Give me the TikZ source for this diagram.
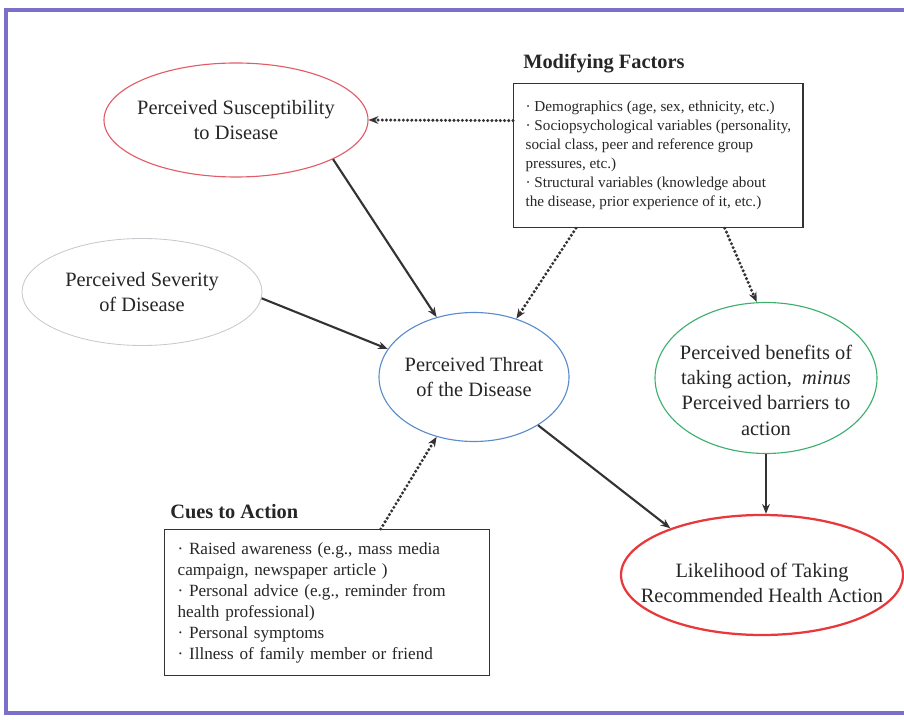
\documentclass[tikz,border=0pt]{standalone}
\usepackage{fontspec}
\setmainfont{Liberation Serif}
\usetikzlibrary{shapes.geometric,arrows.meta,positioning}

\definecolor{framecol}{RGB}{122,112,202}
\definecolor{susccol}{RGB}{226,92,104}
\definecolor{sevcol}{RGB}{200,200,206}
\definecolor{threatcol}{RGB}{90,140,205}
\definecolor{benefitcol}{RGB}{60,175,110}
\definecolor{likelycol}{RGB}{232,56,60}

\begin{document}
\begin{tikzpicture}[
	el/.style={ellipse, draw, line width=0.8pt, inner sep=0pt},
	lbl/.style={align=center, font=\fontsize{14.5}{18}\selectfont, text=black!85},
	factbox/.style={rectangle, draw=black!80, line width=0.9pt, anchor=north west, align=left, text=black!85},
	boxtitle/.style={font=\fontsize{14.5}{17}\selectfont\bfseries, inner sep=0pt, text=black!85},
	link/.style={-{Stealth[length=7pt,width=5.5pt]}, line width=1.5pt, draw=black!80},
	dotlink/.style={link, line width=2.4pt, line cap=round, dash pattern=on 0pt off 3pt}
	]
	\useasboundingbox (0,0) rectangle (22.6,17.975);
	\draw[framecol, line width=2.2pt] (22.6,17.725) -- (0.15,17.725) -- (0.15,0.15) -- (22.6,0.15);

	\node[el, draw=susccol, minimum width=6.6cm, minimum height=2.85cm,
		label={[lbl]center:{Perceived Susceptibility\\to Disease}}] (susc) at (5.9,14.975) {};
	\node[el, draw=sevcol, line width=0.6pt, minimum width=6cm, minimum height=2.675cm,
		label={[lbl]center:{Perceived Severity\\of Disease}}] (sev) at (3.55,10.675) {};
	\node[el, draw=threatcol, minimum width=4.75cm, minimum height=3.225cm,
		label={[lbl]center:{Perceived Threat\\of the Disease}}] (threat) at (11.85,8.55) {};
	\node[el, draw=benefitcol, minimum width=5.55cm, minimum height=3.775cm,
		label={[lbl,yshift=-0.3cm]center:{Perceived benefits of\\taking action,~ \textit{minus}\\Perceived barriers to\\action}}] (benefit) at (19.15,8.525) {};
	\node[el, draw=likelycol, line width=1.6pt, minimum width=7.05cm, minimum height=3cm,
		label={[lbl,yshift=-0.2cm]center:{Likelihood of Taking\\Recommended Health Action}}] (likely) at (19.05,3.6) {};

	\node[factbox, minimum width=7.125cm, minimum height=3.6cm, inner xsep=0.3cm,
		font=\fontsize{10.8}{13.5}\selectfont] (mod) at (12.825,15.9)
		{· Demographics (age, sex, ethnicity, etc.)\\· Sociopsychological variables (personality,\\social class, peer and reference group\\pressures, etc.)\\· Structural variables (knowledge about\\the disease, prior experience of it, etc.)};
	\node[boxtitle, above right=0.24cm and 0.25cm of mod.north west] (modtitle) {Modifying Factors};

	\node[factbox, text width=7.475cm, inner xsep=0.325cm, minimum height=3.65cm,
		font=\fontsize{12.2}{15}\selectfont] (cues) at (4.1,4.75)
		{· Raised awareness (e.g., mass media\\campaign, newspaper article )\\· Personal advice (e.g., reminder from\\health professional)\\· Personal symptoms\\· Illness of family member or friend};
	\node[boxtitle, above right=0.25cm and 0.15cm of cues.north west] (cuestitle) {Cues to Action};

	\draw[dotlink] ([yshift=0.875cm]mod.west) -- (susc.east);
	\draw[dotlink] ([xshift=-2.06cm]mod.south) -- (threat.54);
	\draw[dotlink] ([xshift=1.66cm]mod.south) -- (benefit.97);
	\draw[dotlink] ([xshift=1.34cm]cues.north) -- (threat.238);

	\draw[link] (susc.338) -- (threat.122);
	\draw[link] (sev.357) -- (threat.162);
	\draw[link] (threat.323) -- (likely.153);
	\draw[link] (benefit.south) -- (benefit.south |- likely.north);
\end{tikzpicture}
\end{document}
